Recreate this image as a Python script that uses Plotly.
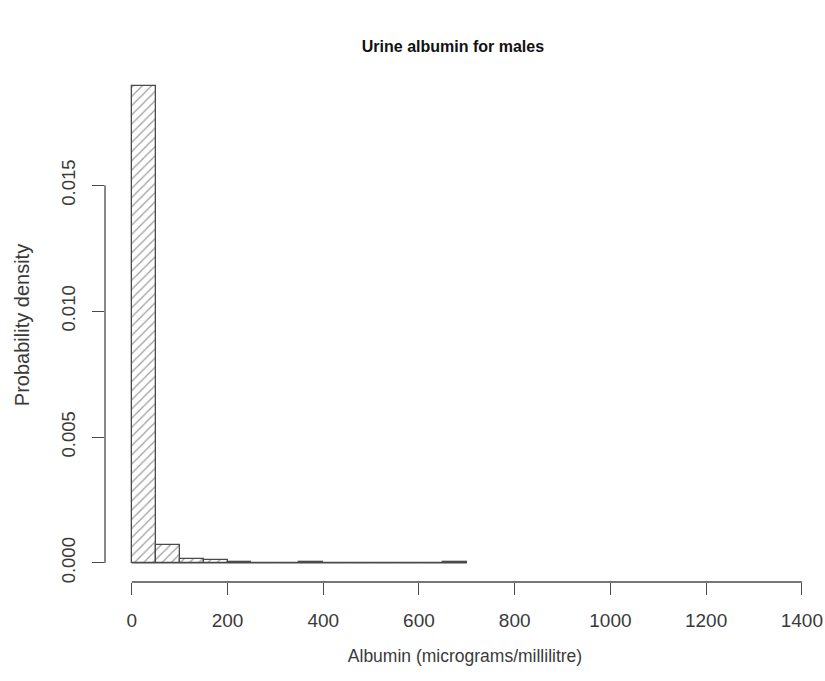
import plotly.graph_objects as go

# Histogram data (bin edges and probability densities)
bin_left = [0, 50, 100, 150, 200, 250, 300, 350, 400, 450, 500, 550, 600, 650]
bin_width = 50
density = [0.01894, 0.00070, 0.00016, 0.00011, 0.00004, 0.0, 0.0,
           0.00002, 0.0, 0.0, 0.0, 0.0, 0.0, 0.00002]

x_ticks = [0, 200, 400, 600, 800, 1000, 1200, 1400]
y_ticks = [0.000, 0.005, 0.010, 0.015]
y_tick_text = ["0.000", "0.005", "0.010", "0.015"]

title = "Urine albumin for males"
x_title = "Albumin (micrograms/millilitre)"
y_title = "Probability density"

LINE = "#4a4a4a"
TEXT = "#3a3a3a"
FONT = "Liberation Sans, Arial, sans-serif"

centers = [b + bin_width / 2 for b in bin_left]

fig = go.Figure()
fig.add_trace(go.Bar(
    x=centers, y=density, width=[bin_width] * len(centers),
    marker=dict(color="white",
                line=dict(color=LINE, width=1.3),
                pattern=dict(shape="/", fgcolor="#3a3a3a", bgcolor="white",
                             size=6.5, solidity=0.2)),
    hoverinfo="x+y", showlegend=False,
))
# zero-height bins drawn as a baseline, as R does
fig.add_trace(go.Scatter(
    x=[bin_left[0], bin_left[-1] + bin_width], y=[0, 0], mode="lines",
    line=dict(color=LINE, width=1.3), hoverinfo="skip", showlegend=False,
))

# Axis lines spanning only the tick range (R style)
fig.add_shape(type="line", xref="x", yref="paper",
              x0=x_ticks[0], x1=x_ticks[-1], y0=0, y1=0,
              line=dict(color=LINE, width=1.3))
fig.add_shape(type="line", xref="paper", yref="y",
              x0=0, x1=0, y0=y_ticks[0], y1=y_ticks[-1],
              line=dict(color=LINE, width=1.3))

fig.update_layout(
    width=825, height=681,
    margin=dict(l=105, r=0, t=68, b=99),
    paper_bgcolor="white", plot_bgcolor="white",
    font=dict(family=FONT, color=TEXT, size=15),
    title=dict(text="<b>" + title + "</b>", x=0.549, xanchor="center",
               xref="container", yref="container",
               y=0.932, yanchor="middle", font=dict(size=16, color="#111111")),
    bargap=0,
    xaxis=dict(range=[-56, 1448.4], tickvals=x_ticks,
               ticks="outside", ticklen=12, tickcolor=LINE, tickwidth=1.3,
               showgrid=False, zeroline=False, showline=False,
               automargin=False, ticklabelstandoff=9,
               tickfont=dict(size=19),
               title=dict(text=x_title, standoff=19, font=dict(size=17.5))),
    yaxis=dict(range=[-0.000756, 0.01966], tickvals=y_ticks,
               ticktext=y_tick_text, tickangle=-90,
               ticks="outside", ticklen=12, tickcolor=LINE, tickwidth=1.3,
               showgrid=False, zeroline=False, showline=False,
               automargin=False, ticklabelstandoff=10,
               tickfont=dict(size=18.5),
               title=dict(text=y_title, standoff=22, font=dict(size=20))),
)

fig.write_html("out.html", config={"displayModeBar": False},
               post_script="document.body.style.margin='0';")
